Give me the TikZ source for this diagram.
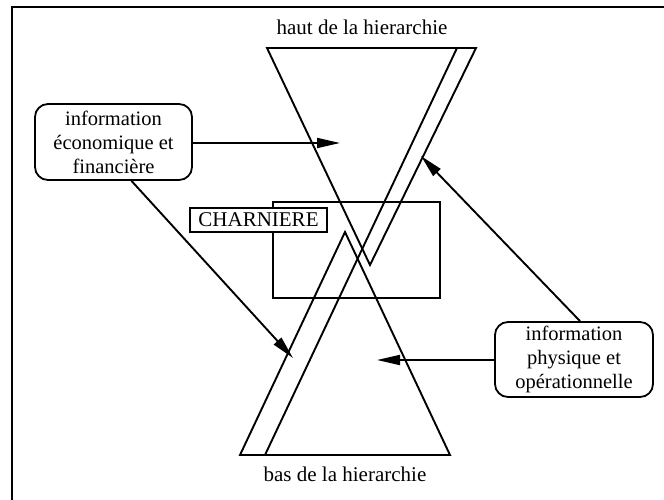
\documentclass[tikz,border=0pt]{standalone}
\usepackage{fontspec}
\setmainfont{Liberation Serif}
\usetikzlibrary{arrows.meta}
\begin{document}
\begin{tikzpicture}[x=1pt,y=-1pt,
  ln/.style={line width=1.9pt},
  arr/.style={line width=1.9pt,-{Triangle[length=23pt,width=10pt]}},
  infobox/.style={draw,line width=1.8pt,rounded corners=13pt,align=center,
    font=\fontsize{20.5}{24}\selectfont,inner sep=0pt,fill=white},
  lbl/.style={font=\fontsize{21}{24}\selectfont,inner sep=0pt}]
\useasboundingbox (0,0) rectangle (664,500);
% frame
\draw[line width=2.6pt] (12,500) -- (12,7) -- (664,7);
% vertices
\coordinate (tl) at (267,48);
\coordinate (tr) at (476,48);
\coordinate (ta) at (370,265);
\coordinate (ba) at (345,232);
\coordinate (bl) at (240,455);
\coordinate (br) at (450,455);
\coordinate (st) at (457,48);
\coordinate (sb) at (265,455);
% hinge rectangle
\draw[ln] (273,202) rectangle (440,298);
% triangles and strip line
\draw[ln] (tl) -- (tr) -- (ta) -- cycle;
\draw[ln] (bl) -- (ba) -- (br) -- cycle;
\draw[ln] (st) -- (sb);
% labels
\node[lbl,anchor=base] (haut) at (362,35) {haut de la hierarchie};
\node[lbl,anchor=base] (bas) at (345,481) {bas de la hierarchie};
\node[draw,line width=1.6pt,fill=white,minimum width=137pt,minimum height=24pt,
  inner sep=0pt,font=\fontsize{21}{24}\selectfont] (ch) at (258.5,220) {CHARNIERE};
% boxes
\node[infobox,minimum width=157pt,minimum height=76pt] (eco) at (113.5,142)
  {information\\économique et\\financière};
\node[infobox,minimum width=158pt,minimum height=75pt] (phy) at (574,359.5)
  {information\\physique et\\opérationnelle};
% arrow targets
\coordinate (t1) at (340,143);
\coordinate (t2) at (293,358);
\coordinate (t3) at (377,360);
\coordinate (t4) at (421,156);
% arrows
\draw[arr] (eco.east |- t1) -- (t1);
\draw[arr] ([xshift=18pt]eco.south) -- (t2);
\draw[arr] (phy.west |- t3) -- (t3);
\draw[arr] ([xshift=6pt]phy.north) -- (t4);
\end{tikzpicture}
\end{document}
